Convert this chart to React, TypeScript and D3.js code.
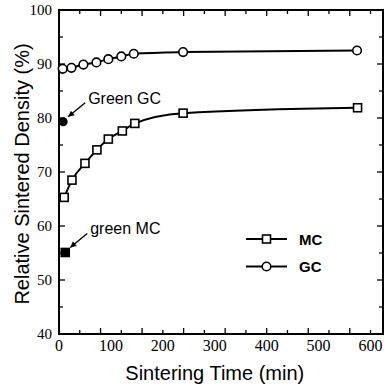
import * as d3 from "d3"

const gcTimes = [7, 24, 47, 72, 95, 120, 144, 239, 574]
const gcDensity = [89.1, 89.3, 89.9, 90.3, 90.9, 91.4, 91.9, 92.2, 92.5]
const mcTimes = [10, 25, 50, 73, 95, 122, 146, 239, 575]
const mcDensity = [65.3, 68.5, 71.6, 74.1, 76.1, 77.6, 79.0, 80.9, 81.9]

const greenLabels = ["Green GC", "green MC"]
const greenTimes = [8, 12]
const greenDensity = [79.3, 55.1]

const xLabels = [0, 100, 200, 300, 400, 500, 600]
const yLabels = [40, 50, 60, 70, 80, 90, 100]
const xTickStep = 40
const yTickStep = 5

const W = 385
const H = 388
const margin = { top: 10, right: 2, bottom: 54, left: 59 }
const iW = W - margin.left - margin.right
const iH = H - margin.top - margin.bottom

const x = d3.scaleLinear().domain([0, 624]).range([0, iW])
const y = d3.scaleLinear().domain([40, 100]).range([iH, 0])

const line = d3
  .line<[number, number]>()
  .x((d) => x(d[0]))
  .y((d) => y(d[1]))
  .curve(d3.curveMonotoneX)

const sans = "'Liberation Sans', Arial, sans-serif"
const serif = "'Liberation Serif', 'Times New Roman', serif"

function Square({ cx, cy, s, fill }: { cx: number; cy: number; s: number; fill: string }) {
  return <rect x={cx - s / 2} y={cy - s / 2} width={s} height={s} fill={fill} stroke="#000" strokeWidth={1.6} />
}

export default function App() {
  const gc = gcTimes.map((t, i) => [t, gcDensity[i]] as [number, number])
  const mc = mcTimes.map((t, i) => [t, mcDensity[i]] as [number, number])
  const xTicks = d3.range(0, 625, xTickStep)
  const yTicks = d3.range(40, 100.1, yTickStep)

  return (
    <div style={{ position: "absolute", left: 0, top: 0 }}>
      <svg width={W} height={H} style={{ display: "block", background: "#fff" }}>
        <g transform={`translate(${margin.left},${margin.top})`}>
          {/* frame */}
          <rect x={0} y={0} width={iW} height={iH} fill="none" stroke="#000" strokeWidth={2} />

          {/* x ticks, bottom and top */}
          {xTicks.map((t) => {
            const len = t % 80 === 0 ? 6 : 4
            return (
              <g key={"xt" + t}>
                <line x1={x(t)} x2={x(t)} y1={iH} y2={iH - len} stroke="#000" strokeWidth={1.3} />
                <line x1={x(t)} x2={x(t)} y1={0} y2={len} stroke="#000" strokeWidth={1.3} />
              </g>
            )
          })}
          {/* y ticks, left and right */}
          {yTicks.map((v) => {
            const len = v % 10 === 0 ? 6 : 4
            return (
              <g key={"yt" + v}>
                <line x1={0} x2={len} y1={y(v)} y2={y(v)} stroke="#000" strokeWidth={1.3} />
                <line x1={iW} x2={iW - len} y1={y(v)} y2={y(v)} stroke="#000" strokeWidth={1.3} />
              </g>
            )
          })}

          {/* tick labels */}
          {xLabels.map((t) => (
            <text key={"xl" + t} x={x(t)} y={iH + 17} textAnchor="middle" fontFamily={serif} fontSize={16}>
              {t}
            </text>
          ))}
          {yLabels.map((v) => (
            <text key={"yl" + v} x={-7} y={y(v) + 5} textAnchor="end" fontFamily={serif} fontSize={15}>
              {v}
            </text>
          ))}

          {/* series lines */}
          <path d={line(gc) ?? ""} fill="none" stroke="#000" strokeWidth={2} />
          <path d={line(mc) ?? ""} fill="none" stroke="#000" strokeWidth={2} />

          {gc.map((d, i) => (
            <circle key={"gc" + i} cx={x(d[0])} cy={y(d[1])} r={4.3} fill="#fff" stroke="#000" strokeWidth={1.6} />
          ))}
          {mc.map((d, i) => (
            <Square key={"mc" + i} cx={x(d[0])} cy={y(d[1])} s={8} fill="#fff" />
          ))}

          {/* green compacts */}
          {greenLabels.map((lab, i) => {
            const px = x(greenTimes[i])
            const py = y(greenDensity[i])
            const tip: [number, number] = [px + 5, py - 5]
            const tail: [number, number] = [px + 22, py - 19]
            const ang = Math.atan2(tip[1] - tail[1], tip[0] - tail[0])
            const ah = 6
            const aw = 3
            const p1 = [tip[0] - ah * Math.cos(ang) + aw * Math.sin(ang), tip[1] - ah * Math.sin(ang) - aw * Math.cos(ang)]
            const p2 = [tip[0] - ah * Math.cos(ang) - aw * Math.sin(ang), tip[1] - ah * Math.sin(ang) + aw * Math.cos(ang)]
            return (
              <g key={lab}>
                {i === 0 ? (
                  <circle cx={px} cy={py} r={4.5} fill="#000" />
                ) : (
                  <Square cx={px} cy={py} s={8} fill="#000" />
                )}
                <line x1={tail[0]} y1={tail[1]} x2={tip[0]} y2={tip[1]} stroke="#000" strokeWidth={1.4} />
                <polygon points={`${tip[0]},${tip[1]} ${p1[0]},${p1[1]} ${p2[0]},${p2[1]}`} fill="#000" />
                <text x={px + 25} y={py - 18} fontFamily={sans} fontSize={16}>
                  {lab}
                </text>
              </g>
            )
          })}

          {/* legend */}
          <g transform={`translate(${246 - margin.left},${239 - margin.top})`}>
            <line x1={0} x2={41} y1={0} y2={0} stroke="#000" strokeWidth={2} />
            <Square cx={20.5} cy={0} s={8} fill="#fff" />
            <text x={53} y={5.5} fontFamily={sans} fontSize={15} fontWeight="bold">
              MC
            </text>
            <line x1={0} x2={41} y1={27.5} y2={27.5} stroke="#000" strokeWidth={2} />
            <circle cx={20.5} cy={27.5} r={4.3} fill="#fff" stroke="#000" strokeWidth={1.6} />
            <text x={53} y={33} fontFamily={sans} fontSize={15} fontWeight="bold">
              GC
            </text>
          </g>
        </g>

        {/* axis titles */}
        <text x={margin.left + x(300)} y={380} textAnchor="middle" fontFamily={sans} fontSize={20}>
          Sintering Time (min)
        </text>
        <text
          transform={`translate(29,${174}) rotate(-90)`}
          textAnchor="middle"
          fontFamily={sans}
          fontSize={20}
        >
          Relative Sintered Density (%)
        </text>
      </svg>
    </div>
  )
}
